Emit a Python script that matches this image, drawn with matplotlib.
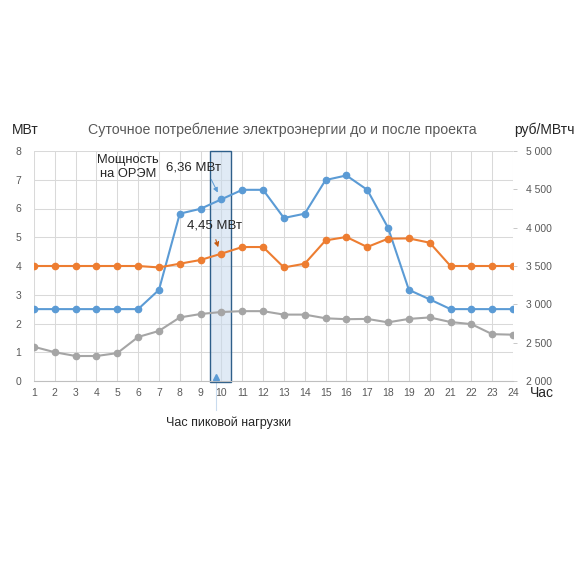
import matplotlib.pyplot as plt

plt.rcParams['font.family'] = ['Liberation Sans', 'DejaVu Sans']

hours = list(range(1, 25))
# мощность до проекта (МВт), левая ось
power_before = [2.5, 2.5, 2.5, 2.5, 2.5, 2.5, 3.17, 5.82, 5.99, 6.32, 6.65, 6.65,
                5.67, 5.82, 6.99, 7.15, 6.65, 5.33, 3.17, 2.84, 2.5, 2.5, 2.5, 2.5]
# мощность после проекта (МВт), левая ось
power_after = [4.0, 4.0, 4.0, 4.0, 4.0, 4.0, 3.95, 4.08, 4.21, 4.43, 4.66, 4.66,
               3.95, 4.08, 4.89, 5.01, 4.66, 4.95, 4.96, 4.81, 4.0, 4.0, 4.0, 4.0]
# цена (руб/МВтч), правая ось
price = [2446, 2375, 2326, 2326, 2364, 2574, 2653, 2829, 2874, 2900, 2911, 2911,
         2866, 2866, 2818, 2806, 2810, 2765, 2810, 2829, 2769, 2742, 2611, 2604]

left_ticks = list(range(0, 9))
right_ticks = [2000, 2500, 3000, 3500, 4000, 4500, 5000]
right_labels = ['2 000', '2 500', '3 000', '3 500', '4 000', '4 500', '5 000']

peak_hour = 9.95
blue = '#5B9BD5'
orange = '#ED7D31'
gray = '#A5A5A5'
txt = '#595959'
dark = '#262626'

W, H = 582, 584
fig = plt.figure(figsize=(W / 100, H / 100), dpi=100)
ax = fig.add_axes([34 / W, 1 - 381 / H, 479 / W, 230 / H])


def fx(px):
    return px / W


def fy(py):
    return 1 - py / H


# пиковый час
ax.add_patch(plt.Rectangle((peak_hour - 0.52, -0.03), 1.02, 8.03,
                           facecolor=(0.78, 0.85, 0.93, 0.55),
                           edgecolor='#2E5F8A', lw=1.0, zorder=2, clip_on=False))
ax.plot([9.72, 9.72], [-0.03, -1.0], color='#C9DBEE', lw=0.8, clip_on=False, zorder=1)
ax.plot([9.72], [0.15], marker='^', color=blue, ms=5, ls='none', zorder=4)

ax.plot(hours, power_before, color=blue, lw=1.5, marker='o', ms=4.5, zorder=3)
ax.plot(hours, power_after, color=orange, lw=1.5, marker='o', ms=4.5, zorder=3)

ax.set_xlim(1, 24)
ax.set_ylim(0, 8)
ax.set_xticks(hours)
ax.set_yticks(left_ticks)
ax.grid(True, color='#D9D9D9', lw=0.75, zorder=0)
ax.set_axisbelow(True)
for s in ['top', 'left', 'right']:
    ax.spines[s].set_visible(False)
ax.spines['bottom'].set_color('#BFBFBF')
ax.tick_params(axis='x', length=0, pad=5, labelsize=7.5, labelcolor=txt)
ax.tick_params(axis='y', length=0, pad=9, labelsize=7.5, labelcolor=txt)

ax2 = ax.twinx()
ax2.plot(hours, price, color=gray, lw=1.5, marker='o', ms=4.5, zorder=3)
ax2.set_ylim(2000, 5000)
ax2.set_yticks(right_ticks)
ax2.set_yticklabels(right_labels)
for s in ax2.spines.values():
    s.set_visible(False)
ax2.tick_params(axis='y', length=3, width=0.6, color='#BFBFBF', pad=6, labelsize=7.5,
                labelcolor=txt)

# подписи
fig.text(fx(282), fy(130), 'Суточное потребление электроэнергии до и после проекта',
         ha='center', va='center', fontsize=10.2, color=txt)
fig.text(fx(12), fy(130), 'МВт', ha='left', va='center', fontsize=10, color=dark)
fig.text(fx(575), fy(130), 'руб/МВтч', ha='right', va='center', fontsize=10, color=dark)
fig.text(fx(530), fy(393), 'Час', ha='left', va='center', fontsize=10, color=dark)
fig.text(fx(229), fy(423), 'Час пиковой нагрузки', ha='center', va='center', fontsize=9,
         color=dark)
fig.text(fx(128), fy(167), 'Мощность\nна ОРЭМ', ha='center', va='center', fontsize=9.3,
         color=dark, linespacing=1.25)

fig.text(fx(193), fy(168), '6,36 МВт', ha='center', va='center', fontsize=9.5, color=dark)
ax.annotate('', xy=(219, H - 195), xycoords='figure pixels', xytext=(210, H - 177),
            textcoords='figure pixels',
            arrowprops=dict(arrowstyle='-|>', color=blue, lw=0.7, mutation_scale=7))
fig.text(fx(214), fy(226), '4,45 МВт', ha='center', va='center', fontsize=9.5, color=dark)
ax.annotate('', xy=(219, H - 250), xycoords='figure pixels', xytext=(215, H - 237),
            textcoords='figure pixels',
            arrowprops=dict(arrowstyle='-|>', color='#C55A11', lw=0.8, ls='--',
                            mutation_scale=7))

fig.savefig('out.png', dpi=100)
